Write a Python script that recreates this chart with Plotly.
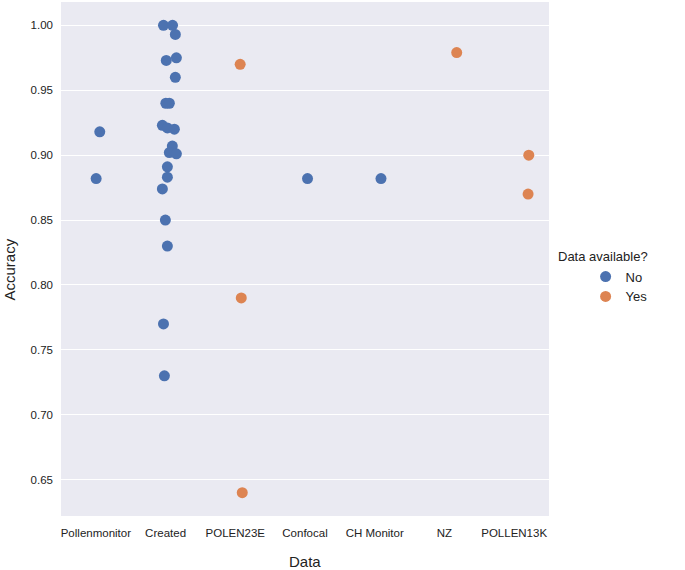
import plotly.graph_objects as go

categories = ["Pollenmonitor", "Created", "POLEN23E", "Confocal", "CH Monitor", "NZ", "POLLEN13K"]

# Data available? = No
no_data = (["Pollenmonitor"] * 2 + ["Created"] * 21 + ["Confocal", "CH Monitor"])
no_accuracy = [0.918, 0.882,
               1.000, 1.000, 0.993, 0.973, 0.975, 0.960, 0.940, 0.940, 0.923, 0.921,
               0.920, 0.907, 0.902, 0.901, 0.891, 0.883, 0.874, 0.850, 0.830, 0.770, 0.730,
               0.882, 0.882]
no_jitter = [0.056, 0.004,
             -0.03, 0.10, 0.14, 0.01, 0.155, 0.14, 0.004, 0.054, -0.046, 0.026,
             0.126, 0.097, 0.054, 0.155, 0.026, 0.026, -0.046, -0.003, 0.026, -0.03, -0.017,
             0.036, 0.09]

# Data available? = Yes
yes_data = ["POLEN23E", "POLEN23E", "POLEN23E", "NZ", "POLLEN13K", "POLLEN13K"]
yes_accuracy = [0.970, 0.790, 0.640, 0.979, 0.900, 0.870]
yes_jitter = [0.07, 0.086, 0.10, 0.176, 0.21, 0.20]

y_ticks = [0.65, 0.70, 0.75, 0.80, 0.85, 0.90, 0.95, 1.00]

BLUE = "#4C72B0"
ORANGE = "#DD8452"
FONT = "Liberation Sans, Arial, Helvetica, sans-serif"
TXT = "#222222"


def positions(cats, jit):
    return [categories.index(c) + j for c, j in zip(cats, jit)]


fig = go.Figure()
fig.add_trace(go.Scatter(
    x=positions(no_data, no_jitter), y=no_accuracy, mode="markers", name="No",
    marker=dict(color=BLUE, size=11, line=dict(width=0)),
))
fig.add_trace(go.Scatter(
    x=positions(yes_data, yes_jitter), y=yes_accuracy, mode="markers", name="Yes",
    marker=dict(color=ORANGE, size=11, line=dict(width=0)),
))

fig.update_layout(
    width=685, height=570,
    margin=dict(l=61, r=136, t=2, b=54, autoexpand=False),
    paper_bgcolor="white",
    plot_bgcolor="#EAEAF2",
    font=dict(family=FONT, color=TXT),
    showlegend=True,
    legend=dict(
        x=1.075, y=0.495, xanchor="left", yanchor="top",
        font=dict(size=13, family=FONT, color=TXT),
        bgcolor="rgba(0,0,0,0)", itemwidth=30,
    ),
    xaxis=dict(
        range=[-0.5, 6.5], tickmode="array", tickvals=list(range(len(categories))),
        ticktext=categories, showgrid=False, zeroline=False, showline=False,
        tickfont=dict(size=11.5), ticks="", ticklabelstandoff=8, automargin=False,
    ),
    yaxis=dict(
        range=[0.622, 1.018], tickmode="array", tickvals=y_ticks,
        ticktext=[f"{v:.2f}" for v in y_ticks],
        showgrid=True, gridcolor="white", gridwidth=1.3, zeroline=False, showline=False,
        tickfont=dict(size=11.5), ticks="", ticklabelstandoff=7, automargin=False,
    ),
    annotations=[
        dict(text="Data available?", xref="paper", yref="paper", x=1.014, y=0.504,
             xanchor="left", yanchor="middle", showarrow=False,
             font=dict(size=13, family=FONT, color=TXT)),
        dict(text="Data", xref="paper", yref="paper", x=0.5, y=-0.089,
             xanchor="center", yanchor="middle", showarrow=False,
             font=dict(size=15, family=FONT, color=TXT)),
        dict(text="Accuracy", xref="paper", yref="paper", x=-0.106, y=0.48,
             xanchor="center", yanchor="middle", showarrow=False, textangle=-90,
             font=dict(size=15, family=FONT, color=TXT)),
    ],
)

fig.write_html("out.html", config={"displayModeBar": False},
               post_script="document.body.style.margin='0';")
